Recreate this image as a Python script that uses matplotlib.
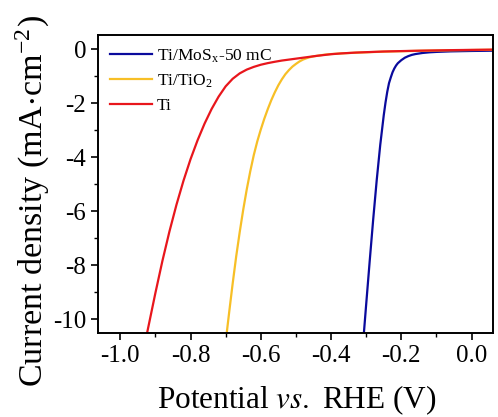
import numpy as np
import matplotlib.pyplot as plt
from matplotlib.ticker import MultipleLocator

# Courbes LSV (potentiel en V, densité de courant en mA/cm2)
x_mos = [-0.308, -0.30, -0.29, -0.28, -0.27, -0.26, -0.25, -0.245, -0.24, -0.235,
         -0.23, -0.225, -0.22, -0.215, -0.21, -0.20, -0.19, -0.18, -0.17, -0.16,
         -0.14, -0.12, -0.10, -0.06, 0.0, 0.06]
j_mos = [-10.75, -9.45, -7.85, -6.3, -4.85, -3.55, -2.45, -1.98, -1.58, -1.26,
         -1.05, -0.86, -0.72, -0.61, -0.525, -0.41, -0.32, -0.26, -0.215, -0.185,
         -0.145, -0.12, -0.105, -0.085, -0.07, -0.06]

x_tio2 = [-0.70, -0.69, -0.68, -0.67, -0.66, -0.65, -0.64, -0.63, -0.62, -0.61,
          -0.60, -0.59, -0.58, -0.57, -0.56, -0.55, -0.54, -0.53, -0.52, -0.51,
          -0.50, -0.49, -0.48, -0.47, -0.46, -0.45, -0.44, -0.42, -0.40, -0.37,
          -0.33, -0.29, -0.25, -0.20, -0.15, -0.06, 0.06]
j_tio2 = [-10.85, -9.75, -8.68, -7.68, -6.78, -5.95, -5.2, -4.53, -3.93, -3.42,
          -2.98, -2.58, -2.22, -1.89, -1.60, -1.34, -1.12, -0.93, -0.78, -0.65,
          -0.55, -0.46, -0.39, -0.34, -0.30, -0.27, -0.25, -0.21, -0.185, -0.16,
          -0.135, -0.115, -0.095, -0.08, -0.065, -0.045, -0.025]

x_ti = [-0.925, -0.90, -0.88, -0.86, -0.84, -0.82, -0.80, -0.78, -0.76, -0.74,
        -0.72, -0.70, -0.68, -0.66, -0.64, -0.62, -0.60, -0.58, -0.56, -0.54,
        -0.52, -0.50, -0.48, -0.46, -0.44, -0.42, -0.40, -0.37, -0.33, -0.29,
        -0.25, -0.20, -0.15, -0.06, 0.06]
j_ti = [-10.6, -9.035, -7.845, -6.755, -5.765, -4.875, -4.08, -3.38, -2.76, -2.22,
        -1.76, -1.38, -1.10, -0.90, -0.76, -0.66, -0.58, -0.52, -0.47, -0.425,
        -0.39, -0.355, -0.32, -0.285, -0.25, -0.22, -0.19, -0.16, -0.13, -0.11,
        -0.09, -0.075, -0.06, -0.04, -0.02]

labels = ["Ti/MoS$_\\mathregular{x}$-50 mC", "Ti/TiO$_\\mathregular{2}$", "Ti"]
colors = ["#0a0a9c", "#f7bf26", "#e8161c"]

plt.rcParams['font.family'] = ['Liberation Serif', 'DejaVu Serif']
plt.rcParams['mathtext.fontset'] = 'stix'

fig = plt.figure(figsize=(4.98, 4.17), dpi=100)
ax = fig.add_axes([0.197, 0.201, 0.793, 0.715])

ax.plot(x_mos, j_mos, color=colors[0], lw=1.6, label=labels[0])
ax.plot(x_tio2, j_tio2, color=colors[1], lw=1.6, label=labels[1])
ax.plot(x_ti, j_ti, color=colors[2], lw=1.6, label=labels[2])

ax.set_xlim(-1.063, 0.061)
ax.set_ylim(-10.52, 0.52)
ax.xaxis.set_minor_locator(MultipleLocator(0.1))
ax.yaxis.set_minor_locator(MultipleLocator(1))
ax.set_xticks(np.arange(-1.0, 0.01, 0.2))
ax.set_xticklabels(["-1.0", "-0.8", "-0.6", "-0.4", "-0.2", "0.0"])
ax.set_yticks(np.arange(-10, 1, 2))
ax.set_yticklabels(["-10", "-8", "-6", "-4", "-2", "0"])

ax.tick_params(which='major', direction='out', length=5, width=1.2, labelsize=18)
ax.tick_params(which='minor', direction='out', length=3, width=1.0)
for s in ax.spines.values():
    s.set_linewidth(1.4)

ax.set_xlabel("Potential $\\mathit{vs.}$ RHE (V)", fontsize=22.5)
ax.set_ylabel("Current density (mA$\\cdot$cm$^{\\mathregular{-2}}$)", fontsize=24.5)
ax.xaxis.set_label_coords(0.5025, -0.17)
ax.yaxis.set_label_coords(-0.12, 0.444)

ax.legend(loc='upper left', frameon=False, fontsize=12.5, handlelength=2.4,
          labelspacing=0.45, borderaxespad=0.3, handletextpad=0.3,
          bbox_to_anchor=(0.0, 1.0))

fig.savefig("out.png", dpi=100)
